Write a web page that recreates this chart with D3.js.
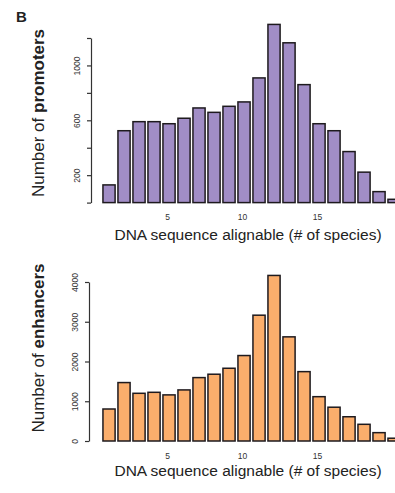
<!DOCTYPE html>
<html>
<head>
<meta charset="utf-8">
<script src="https://cdn.jsdelivr.net/npm/d3@7"></script>
<style>
  body { margin: 0; background: #fff; }
  text { font-family: "Liberation Sans", Arial, sans-serif; }
</style>
</head>
<body>
<div id="d3-container"></div>
<script>
// species count bins (1..20)
const species = d3.range(1, 21);
const promoters = [129, 524, 590, 590, 575, 615, 690, 658, 702, 734, 909, 1299, 1165, 860, 575, 524, 372, 222, 80, 24];
const enhancers = [805, 1470, 1200, 1225, 1160, 1285, 1595, 1680, 1830, 2150, 3165, 4165, 2620, 1745, 1115, 850, 610, 420, 210, 70];
const xTicks = [5, 10, 15];
const promoterTicks = [0, 200, 400, 600, 800, 1000, 1200];
const promoterLabels = [200, 600, 1000];
const enhancerTicks = [0, 1000, 2000, 3000, 4000];
const enhancerLabels = [0, 1000, 2000, 3000, 4000];
const xTitle = "DNA sequence alignable (# of species)";

const width = 395;
const height = 493;

const svg = d3.select('#d3-container')
    .append('svg')
    .attr('width', width)
    .attr('height', height)
    .attr("viewBox", [0, 0, width, height]);

svg.append("text")
    .attr("x", 16)
    .attr("y", 22)
    .attr("font-size", "15px")
    .attr("font-weight", "bold")
    .attr("fill", "#222")
    .text("B");

const x = d3.scaleLinear()
    .domain([0, 20])
    .range([92, 392]);

function panel(opts) {
    const y = d3.scaleLinear()
        .domain([0, opts.yMax])
        .range([opts.bottom, opts.top]);

    svg.append("g")
        .attr("fill", opts.fill)
        .attr("stroke", "#1e1a1e")
        .attr("stroke-width", 1.5)
        .selectAll("rect")
        .data(opts.values)
        .join("rect")
        .attr("x", (d, i) => x(species[i] - 0.27))
        .attr("width", (d, i) => x(species[i] + 0.54) - x(species[i] - 0.27))
        .attr("y", d => y(d))
        .attr("height", d => y(0) - y(d));

    // y axis, R style with rotated labels
    const yAxis = svg.append("g")
        .attr("transform", `translate(${opts.axisX},0)`)
        .call(d3.axisLeft(y)
            .tickValues(opts.ticks)
            .tickSize(4)
            .tickSizeOuter(0)
            .tickFormat(d => opts.labels.includes(d) ? d : ""));
    yAxis.select(".domain").attr("stroke", "#333").attr("stroke-width", 1.2);
    yAxis.selectAll(".tick line").attr("stroke", "#333").attr("stroke-width", 1.2);
    yAxis.selectAll(".tick text")
        .attr("transform", "rotate(-90)")
        .attr("x", 0)
        .attr("y", -11)
        .attr("dy", 0)
        .attr("text-anchor", "middle")
        .attr("font-size", "8.5px")
        .attr("fill", "#333");

    // x tick labels only
    const xAxis = svg.append("g")
        .attr("transform", `translate(0,${opts.xLabelY})`)
        .call(d3.axisBottom(x).tickValues(xTicks).tickSize(0));
    xAxis.select(".domain").remove();
    xAxis.selectAll(".tick text")
        .attr("font-size", "8.5px")
        .attr("fill", "#333");

    svg.append("text")
        .attr("x", 248)
        .attr("y", opts.xTitleY)
        .attr("text-anchor", "middle")
        .attr("font-size", "15.5px")
        .attr("fill", "#222")
        .text(xTitle);

    const yt = svg.append("text")
        .attr("transform", `translate(44,${opts.yTitleMid}) rotate(-90)`)
        .attr("text-anchor", "middle")
        .attr("font-size", "17px")
        .attr("fill", "#222");
    yt.append("tspan").text("Number of ");
    yt.append("tspan").attr("font-weight", "bold").text(opts.name);
}

panel({
    values: promoters, yMax: 1200, top: 38, bottom: 202.6,
    ticks: promoterTicks, labels: promoterLabels, fill: "#a18dc6",
    axisX: 91, xLabelY: 211, xTitleY: 240, yTitleMid: 113, name: "promoters"
});

panel({
    values: enhancers, yMax: 4000, top: 282, bottom: 441,
    ticks: enhancerTicks, labels: enhancerLabels, fill: "#fbae6c",
    axisX: 89, xLabelY: 450, xTitleY: 476, yTitleMid: 348, name: "enhancers"
});
</script>
</body>
</html>
